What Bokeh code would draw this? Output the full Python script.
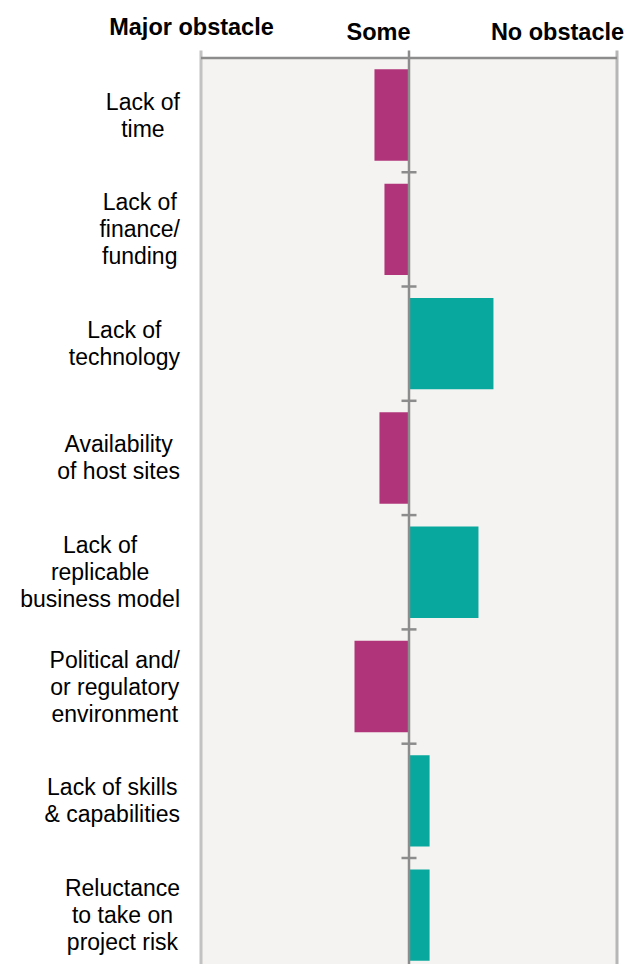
from bokeh.plotting import figure
from bokeh.models import Range1d, ColumnDataSource
from bokeh.core.properties import value
from bokeh.embed import file_html
from bokeh.resources import INLINE

# ---- data ----
categories = [
    "Lack of\ntime",
    "Lack of\nfinance/\nfunding",
    "Lack of\ntechnology",
    "Availability\nof host sites",
    "Lack of\nreplicable\nbusiness model",
    "Political and/\nor regulatory\nenvironment",
    "Lack of skills\n& capabilities",
    "Reluctance\nto take on\nproject risk",
]
scores = [1.834, 1.882, 2.406, 1.858, 2.334, 1.738, 2.099, 2.099]
scale_labels = ["Major obstacle", "Some", "No obstacle"]
scale_ticks = [1, 2, 3]
midpoint = 2

NEG = "#B03479"
POS = "#09A89E"
BG = "#F4F3F1"

# ---- layout constants (pixels) ----
W, H = 627, 964
PX_LEFT, PX_RIGHT = 200.5, 616.5
PX_TOP = 57.4
ROW_H = 114.3
UNIT = (PX_RIGHT - PX_LEFT) / (scale_ticks[-1] - scale_ticks[0])


def px_x(px):
    return scale_ticks[0] + (px - PX_LEFT) / UNIT


def px_y(py):
    return (py - PX_TOP) / ROW_H


# Helvetica/Arial advance widths (per 1000 em)
AW = dict(a=556, b=556, c=500, d=556, e=556, f=278, g=556, h=556, i=222, j=222,
          k=500, l=222, m=833, n=556, o=556, p=556, q=556, r=333, s=500, t=278,
          u=556, v=500, w=722, x=500, y=500, z=500)
AW.update({"A": 667, "L": 556, "P": 667, "R": 722, " ": 278, "/": 278, "&": 667})


def text_w(s, size):
    return sum(AW.get(ch, 556) for ch in s) * size / 1000.0


n = len(categories)
p = figure(width=W, height=H, output_backend="svg", toolbar_location=None,
           x_range=Range1d(px_x(0), px_x(W)),
           y_range=Range1d(px_y(H), px_y(0)),
           min_border=0, min_border_left=0, min_border_right=0,
           min_border_top=0, min_border_bottom=0)
p.axis.visible = False
p.grid.visible = False
p.outline_line_color = None
p.background_fill_color = "white"
p.border_fill_color = "white"

# plot background
p.quad(left=[scale_ticks[0]], right=[scale_ticks[-1]], top=[0], bottom=[n + 1],
       fill_color=BG, line_color=None)

# side borders
y_tick_top = px_y(50)
p.segment(x0=[scale_ticks[0]], x1=[scale_ticks[0]], y0=[y_tick_top], y1=[n + 1],
          line_color="#C2C2C2", line_width=3)
p.segment(x0=[scale_ticks[-1]], x1=[scale_ticks[-1]], y0=[y_tick_top], y1=[n + 1],
          line_color="#B6B6B6", line_width=3)

# bars
ys = [i + 0.5 for i in range(n)]
src = ColumnDataSource(dict(
    y=ys,
    left=[min(v, midpoint) for v in scores],
    right=[max(v, midpoint) for v in scores],
    color=[NEG if v < midpoint else POS for v in scores],
))
p.hbar(y="y", left="left", right="right", height=0.8, fill_color="color",
       line_color=None, source=src)

# top axis line
p.segment(x0=[scale_ticks[0]], x1=[scale_ticks[-1]], y0=[0], y1=[0],
          line_color="#8C8C8C", line_width=2.5)

# center line
p.segment(x0=[midpoint], x1=[midpoint], y0=[y_tick_top], y1=[n + 1],
          line_color="#8C8C8C", line_width=2.5)
# category ticks on center line
half = 7.5 / UNIT
bounds = list(range(1, n))
p.segment(x0=[midpoint - half] * len(bounds), x1=[midpoint + half] * len(bounds),
          y0=bounds, y1=bounds, line_color="#8C8C8C", line_width=2.5)

# category labels: lines centred, block right-aligned at x=179.5px
LBL_SIZE = 23
label_x = []
for c in categories:
    wmax = max(text_w(line, LBL_SIZE) for line in c.split("\n"))
    label_x.append(px_x(179.5 - wmax / 2))
p.text(x=label_x, y=ys, text=categories, text_align="center",
       text_baseline="middle", text_font=value("Liberation Sans"),
       text_font_size=f"{LBL_SIZE}px", text_line_height=1.04, text_color="black")

# scale header labels
HDR_SIZE = 23.5
hdr_px = [(191, 26.5), (378, 31), (557, 31)]
p.text(x=[px_x(a) for a, _ in hdr_px], y=[px_y(b) for _, b in hdr_px],
       text=scale_labels, text_align="center", text_baseline="middle",
       text_font=value("Liberation Sans"), text_font_style="bold",
       text_font_size=f"{HDR_SIZE}px", text_color="black")

open("out.html", "w").write(file_html(p, INLINE))
